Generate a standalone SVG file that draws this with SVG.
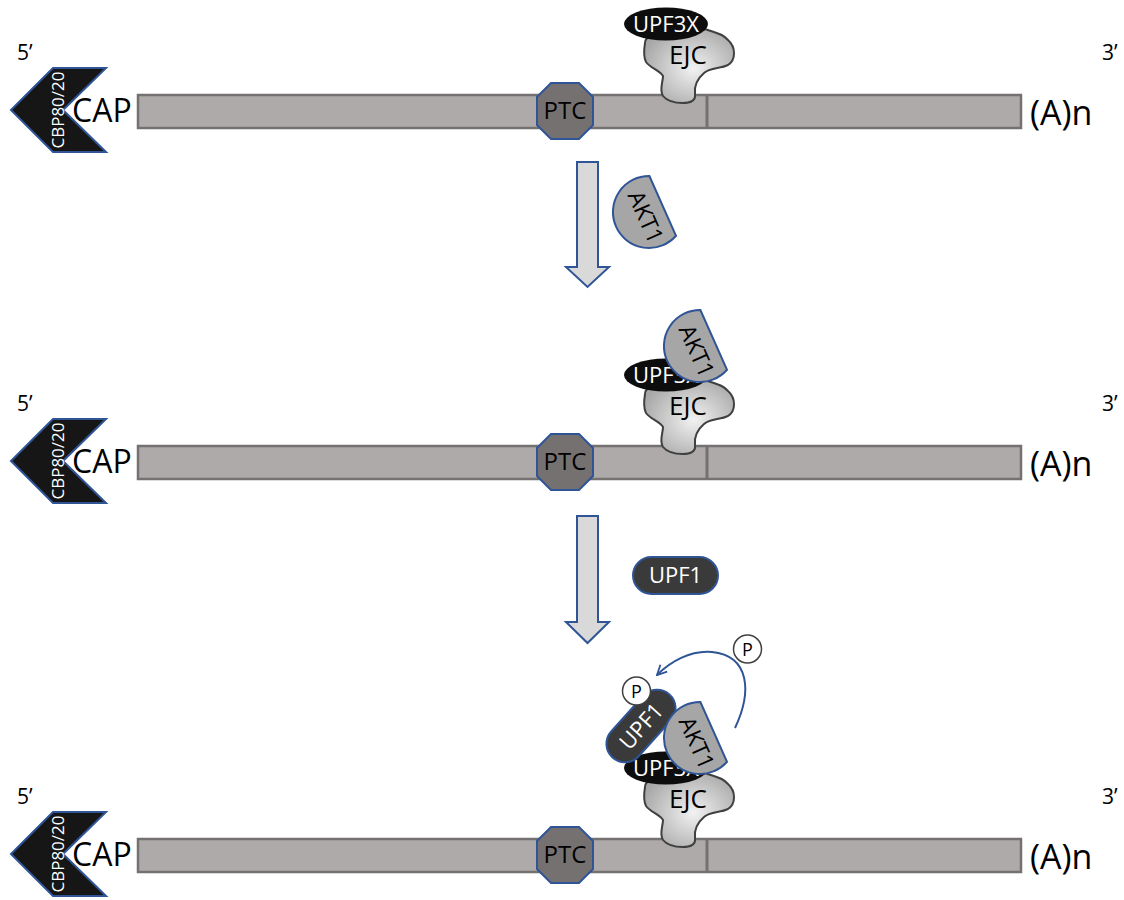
<svg xmlns="http://www.w3.org/2000/svg" width="1124" height="900" viewBox="0 0 1124 900">
<defs>
<style>
text{font-family:"Open Sans","Noto Sans","Liberation Sans",sans-serif;}
.bar{fill:#AEAAAA;stroke:#767171;stroke-width:2.5;}
.div{stroke:#767171;stroke-width:3;}
.cbp{fill:#161616;stroke:#2F5597;stroke-width:2;stroke-linejoin:miter;}
.cbpt{fill:#fff;font-size:17px;text-anchor:middle;}
.cap{fill:#000;font-size:32px;}
.an{fill:#000;font-size:34px;}
.end{fill:#000;font-size:21px;}
.ptc{fill:#767171;stroke:#2F5597;stroke-width:2;}
.ptct{fill:#000;font-size:24px;text-anchor:middle;}
.ejc{fill:url(#ejcg);stroke:#404040;stroke-width:2;stroke-linejoin:round;}
.ejct{fill:#000;font-size:26px;text-anchor:middle;}
.upf3{fill:#0D0D0D;}
.upf3t{fill:#fff;font-size:22px;text-anchor:middle;}
.akt{fill:#A6A6A6;stroke:#2F5597;stroke-width:2;}
.aktt{fill:#000;font-size:23px;text-anchor:middle;}
.upf1{fill:#3A3A3A;stroke:#2F5597;stroke-width:2;}
.upf1t{fill:#fff;font-size:22px;text-anchor:middle;}
.step{fill:#D9D9D9;stroke:#2F5597;stroke-width:2;}
.pc{fill:#fff;stroke:#404040;stroke-width:1.5;}
.pt{fill:#000;font-size:18px;text-anchor:middle;}
.curve{fill:none;stroke:#2F5597;stroke-width:2;}
</style>
<radialGradient id="ejcg" cx="0.55" cy="0.55" r="0.6">
<stop offset="0" stop-color="#F2F2F2"/>
<stop offset="1" stop-color="#A6A6A6"/>
</radialGradient>
<marker id="open" viewBox="0 0 10 10" refX="9" refY="5" markerWidth="6" markerHeight="6" orient="auto" markerUnits="strokeWidth">
<path d="M1,1 L9,5 L1,9" fill="none" stroke="#2F5597" stroke-width="1.5"/>
</marker>
</defs>
<rect width="1124" height="900" fill="#fff"/>

<!-- Row 1 -->
<g id="row1">
<g id="r1-mrna"><rect class="bar" x="138" y="95" width="883" height="33"/><line class="div" x1="707" y1="95" x2="707" y2="128"/></g>
<g id="r1-cbp"><polygon class="cbp" points="11,110 53,68 106,68 63,110 106,152 53,152"/><text class="cbpt" transform="translate(64,110) rotate(-90)">CBP80/20</text></g>
<g id="r1-cap"><text class="cap" x="72" y="122">CAP</text></g>
<g id="r1-an"><text class="an" x="1030" y="125">(A)n</text></g>
<g id="r1-5"><text class="end" x="17" y="60">5’</text></g>
<g id="r1-3"><text class="end" x="1102" y="60">3’</text></g>
<g id="r1-ptc"><polygon class="ptc" points="551,83 579,83 593,97 593,125 579,139 551,139 537,125 537,97"/><text class="ptct" x="565" y="119">PTC</text></g>
<g id="r1-ejc"><path class="ejc" d="M645,43 C644,36 660,32 675,31 C688,28 695,24 705,29 C715,33 722,33 728,40 C736,47 736,60 728,65 C720,69 710,67 704,73 C697,79 694,86 695,94 C696,101 690,103 683,103 C675,103 667,101 663,96 C659,90 663,82 663,76 C660,70 650,68 646,62 C643,56 644,49 645,43 Z"/><text class="ejct" x="688" y="64">EJC</text></g>
<g id="r1-upf3x"><ellipse class="upf3" cx="666" cy="24" rx="42" ry="16.5"/><text class="upf3t" x="666" y="32">UPF3X</text></g>
</g>

<!-- Row 2 -->
<g id="row2" transform="translate(0,351)">
<g id="r2-mrna"><rect class="bar" x="138" y="95" width="883" height="33"/><line class="div" x1="707" y1="95" x2="707" y2="128"/></g>
<g id="r2-cbp"><polygon class="cbp" points="11,110 53,68 106,68 63,110 106,152 53,152"/><text class="cbpt" transform="translate(64,110) rotate(-90)">CBP80/20</text></g>
<g id="r2-cap"><text class="cap" x="72" y="122">CAP</text></g>
<g id="r2-an"><text class="an" x="1030" y="125">(A)n</text></g>
<g id="r2-5"><text class="end" x="17" y="60">5’</text></g>
<g id="r2-3"><text class="end" x="1102" y="60">3’</text></g>
<g id="r2-ptc"><polygon class="ptc" points="551,83 579,83 593,97 593,125 579,139 551,139 537,125 537,97"/><text class="ptct" x="565" y="119">PTC</text></g>
<g id="r2-ejc"><path class="ejc" d="M645,43 C644,36 660,32 675,31 C688,28 695,24 705,29 C715,33 722,33 728,40 C736,47 736,60 728,65 C720,69 710,67 704,73 C697,79 694,86 695,94 C696,101 690,103 683,103 C675,103 667,101 663,96 C659,90 663,82 663,76 C660,70 650,68 646,62 C643,56 644,49 645,43 Z"/><text class="ejct" x="688" y="64">EJC</text></g>
<g id="r2-upf3x"><ellipse class="upf3" cx="666" cy="24" rx="42" ry="16.5"/><text class="upf3t" x="666" y="32">UPF3X</text></g>
<g id="r2-akt1" transform="translate(700,-5) rotate(-24)"><path class="akt" d="M15,-32.7 A36,36 0 1 0 15,32.7 Z"/><text class="aktt" transform="translate(-13,3) rotate(90)">AKT1</text></g>
</g>

<!-- Row 3 -->
<g id="row3" transform="translate(0,744)">
<g id="r3-mrna"><rect class="bar" x="138" y="95" width="883" height="33"/><line class="div" x1="707" y1="95" x2="707" y2="128"/></g>
<g id="r3-cbp"><polygon class="cbp" points="11,110 53,68 106,68 63,110 106,152 53,152"/><text class="cbpt" transform="translate(64,110) rotate(-90)">CBP80/20</text></g>
<g id="r3-cap"><text class="cap" x="72" y="122">CAP</text></g>
<g id="r3-an"><text class="an" x="1030" y="125">(A)n</text></g>
<g id="r3-5"><text class="end" x="17" y="60">5’</text></g>
<g id="r3-3"><text class="end" x="1102" y="60">3’</text></g>
<g id="r3-ptc"><polygon class="ptc" points="551,83 579,83 593,97 593,125 579,139 551,139 537,125 537,97"/><text class="ptct" x="565" y="119">PTC</text></g>
<g id="r3-ejc"><path class="ejc" d="M645,43 C644,36 660,32 675,31 C688,28 695,24 705,29 C715,33 722,33 728,40 C736,47 736,60 728,65 C720,69 710,67 704,73 C697,79 694,86 695,94 C696,101 690,103 683,103 C675,103 667,101 663,96 C659,90 663,82 663,76 C660,70 650,68 646,62 C643,56 644,49 645,43 Z"/><text class="ejct" x="688" y="64">EJC</text></g>
<g id="r3-upf3x"><ellipse class="upf3" cx="666" cy="24" rx="42" ry="16.5"/><text class="upf3t" x="666" y="32">UPF3X</text></g>
<g id="r3-upf1" transform="translate(641,-18) rotate(-48)"><rect class="upf1" x="-42.5" y="-18.5" width="85" height="37" rx="18.5"/><text class="upf1t" x="0" y="8">UPF1</text></g>
<g id="r3-akt1" transform="translate(700,-6) rotate(-24)"><path class="akt" d="M15,-32.7 A36,36 0 1 0 15,32.7 Z"/><text class="aktt" transform="translate(-13,3) rotate(90)">AKT1</text></g>
</g>

<!-- free nodes -->
<g id="akt1-free" transform="translate(649,212) rotate(-24)"><path class="akt" d="M15,-32.7 A36,36 0 1 0 15,32.7 Z"/><text class="aktt" transform="translate(-13,3) rotate(90)">AKT1</text></g>
<g id="upf1-free"><rect class="upf1" x="633" y="557" width="85" height="37" rx="18.5"/><text class="upf1t" x="675.5" y="583">UPF1</text></g>
<g id="p1"><circle class="pc" cx="636.5" cy="691" r="14"/><text class="pt" x="636.5" y="697.5">P</text></g>
<g id="p2"><circle class="pc" cx="747.5" cy="649" r="14"/><text class="pt" x="747.5" y="655.5">P</text></g>

<!-- connectors -->
<g id="connectors">
<path class="step" d="M577,162 H598 V267 H609 L587.5,287 L566,267 H577 Z"/>
<path class="step" d="M577,516 H598 V622 H609 L587.5,643 L566,622 H577 Z"/>
<path class="curve" marker-end="url(#open)" d="M735,728 C752,692 750,656 712,652 C690,650 670,662 657,675"/>
</g>
</svg>
